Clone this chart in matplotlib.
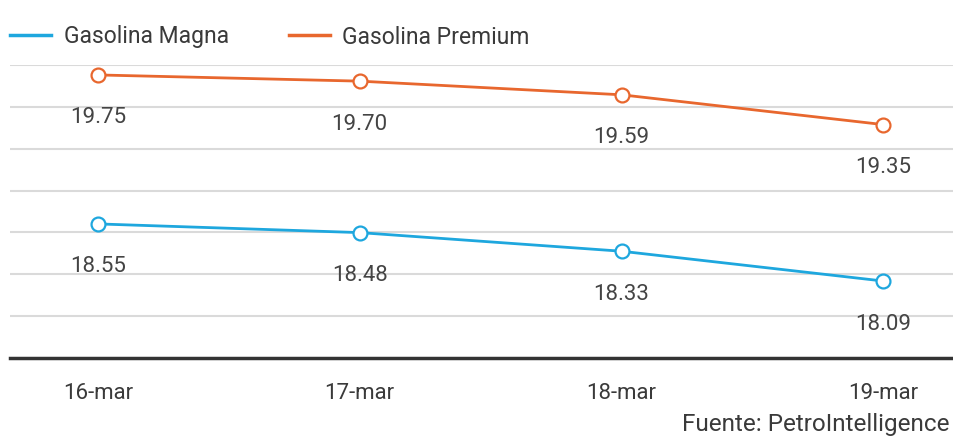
import numpy as np
import matplotlib.pyplot as plt
from matplotlib.lines import Line2D

dates = ["16-mar", "17-mar", "18-mar", "19-mar"]
magna = [18.55, 18.48, 18.33, 18.09]
premium = [19.75, 19.70, 19.59, 19.35]

series_names = ["Gasolina Magna", "Gasolina Premium"]
source_text = "Fuente: PetroIntelligence"

blue = "#1ea7de"
orange = "#e8672e"
text_color = "#3a3a3a"

plt.rcParams["font.family"] = ["Roboto", "DejaVu Sans"]

fig = plt.figure(figsize=(9.54, 4.37), dpi=100)
W, H = 954, 437
ax = fig.add_axes([10 / W, (H - 358) / H, 944 / W, (358 - 65) / H])

x = np.arange(len(dates))
for vals, col in [(magna, blue), (premium, orange)]:
    ax.plot(x, vals, color=col, lw=2, marker="o", ms=10,
            mfc="white", mec=col, mew=1.6, zorder=3, clip_on=False)
    for xi, v in zip(x, vals):
        ax.annotate(f"{v:.2f}", (xi, v), xytext=(0, -31), textcoords="offset points",
                    ha="center", va="center", fontsize=16, color="#444444")

ymin, ymax = 17.47, 19.83
ax.set_ylim(ymin, ymax)
ax.set_xlim(-0.336, 3.27)
ax.set_yticks(np.linspace(ymin, ymax, 8)[1:])
ax.grid(axis="y", color="#dadada", lw=1.5)
ax.set_axisbelow(True)
ax.tick_params(axis="y", left=False, labelleft=False)
ax.set_xticks(x)
ax.set_xticklabels(dates, fontsize=16, color=text_color)
ax.tick_params(axis="x", length=0, pad=18)
for s in ["top", "right", "left"]:
    ax.spines[s].set_visible(False)
ax.spines["bottom"].set_color("#333333")
ax.spines["bottom"].set_linewidth(2.5)

handles = [Line2D([], [], color=blue, lw=2.5), Line2D([], [], color=orange, lw=2.5)]
fig.legend(handles, series_names, loc="center left", bbox_to_anchor=(10 / W, 1 - 37 / H),
           ncol=2, frameon=False, fontsize=16.5, handlelength=1.8, handletextpad=0.55,
           columnspacing=2.6, borderpad=0, borderaxespad=0, labelcolor=text_color)

fig.text(950 / W, (H - 424) / H, source_text, fontsize=17.5, color=text_color,
         ha="right", va="center")

fig.savefig("out.png", dpi=100)
